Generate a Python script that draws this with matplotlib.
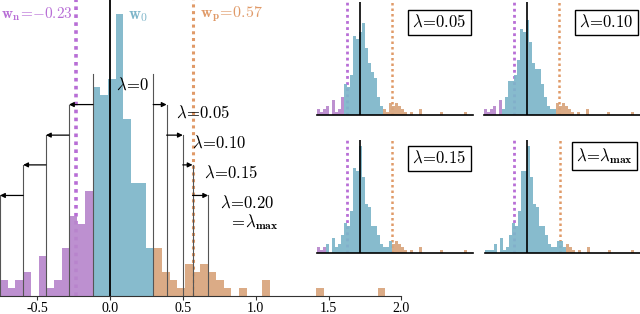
import numpy as np
import matplotlib
matplotlib.use("Agg")
import matplotlib.pyplot as plt

plt.rcParams['mathtext.fontset'] = 'cm'
plt.rcParams['font.family'] = ['Liberation Serif', 'DejaVu Serif']

# histogram bins (weight values) shared by every panel
w_min, w_max, n_bins = -0.754, 1.89, 50
w_n, w_p = -0.23, 0.57

# counts per bin, main histogram (lambda = 0)
main_counts = [2, 1, 2, 3, 0, 5, 1, 2, 6, 10, 9, 13,
               26, 25, 27, 35, 22, 14, 14, 6,
               6, 3, 2, 1, 4, 3, 4, 3, 2, 1, 0, 1, 0, 0, 2,
               0, 0, 0, 0, 0, 0, 1, 0, 0, 0, 0, 0, 0, 0, 1]

# lambda brackets: lower / upper thresholds
lambdas = ['0', '0.05', '0.10', '0.15', '0.20']
low_thr = [-0.116, -0.281, -0.439, -0.595, -0.754]
high_thr = [0.297, 0.389, 0.500, 0.567, 0.674]
bracket_y = [27.6, 23.8, 20.0, 16.3, 12.5]

# retrained histograms for the small panels
p1_counts = main_counts[:9] + [10, 9, 13, 26, 25, 27, 30, 22, 17, 14, 12, 6, 3] + main_counts[22:]
p2_counts = main_counts[:6] + [2, 6, 11, 11, 13, 18, 28, 27, 31, 24, 17, 15, 15, 10, 6, 3, 2, 2] + main_counts[24:]
p3_counts = main_counts[:3] + [3, 0, 5, 2, 3, 6, 10, 9, 14, 28, 27, 35, 25, 16, 15, 9, 9, 6, 3, 2, 2, 4] + main_counts[25:]
p4_counts = [1, 1, 1, 3, 0, 5, 1, 2, 6, 10, 9, 14, 27, 27, 35, 25, 16, 15, 9, 9, 6, 3, 2, 2, 4, 4, 2] + main_counts[27:]
panel_counts = [p1_counts, p2_counts, p3_counts, p4_counts]
panel_labels = [r'$\mathbf{\lambda\!=\!0.05}$', r'$\mathbf{\lambda\!=\!0.10}$',
                r'$\mathbf{\lambda\!=\!0.15}$', r'$\mathbf{\lambda\!=\!\lambda_{max}}$']
panel_thr = [1, 2, 3, 4]

PURPLE = '#b887cc'
BLUE = '#7db5c9'
ORANGE = '#d8a47c'
PURPLE_L = '#b86ed6'
ORANGE_L = '#e09a68'

edges = np.linspace(w_min, w_max, n_bins + 1)
centers = (edges[:-1] + edges[1:]) / 2
widths = np.diff(edges)


def bar_colors(lo, hi):
    return [PURPLE if c < lo else (ORANGE if c > hi else BLUE) for c in centers]


fig = plt.figure(figsize=(6.4, 3.14), dpi=100)

# ---- main histogram
ax = fig.add_axes([0, 0.0573, 0.6273, 0.9427])
ax.set_xlim(-0.754, 2.0)
ax.set_ylim(0, 36.8)
ax.axvline(w_n, color=PURPLE_L, ls=(0, (1, 1.2)), lw=2.6, zorder=1)
ax.axvline(w_p, color=ORANGE_L, ls=(0, (1, 1.2)), lw=2.2, zorder=1)
ax.bar(edges[:-1], main_counts, width=widths, align='edge',
       color=bar_colors(low_thr[0], high_thr[0]), alpha=0.92, zorder=2, lw=0)
ax.axvline(0, color='black', lw=1.3, zorder=4)

for i in range(len(lambdas)):
    y = bracket_y[i]
    for x in (low_thr[i], high_thr[i]):
        ax.plot([x, x], [0, y], color='#555555', lw=0.8, zorder=3)
    if i > 0:
        for x0, x1 in ((low_thr[i - 1], low_thr[i]), (high_thr[i - 1], high_thr[i])):
            ax.annotate('', xy=(x1, y), xytext=(x0, y),
                        arrowprops=dict(arrowstyle='-|>', color='black', lw=0.9,
                                        mutation_scale=7, shrinkA=0, shrinkB=0),
                        annotation_clip=False, zorder=3)

lab_pos = [(0.045, 26.2), (0.455, 22.7), (0.56, 18.9), (0.643, 15.2), (0.752, 11.5)]
for lam, (x, y) in zip(lambdas, lab_pos):
    ax.text(x, y, r'$\mathbf{\lambda\!=\!' + lam + '}$', fontsize=12, va='center', ha='left',
            zorder=5)
ax.text(0.82, 9.2, r'$\mathbf{=\!\lambda_{max}}$', fontsize=12, va='center', ha='left')

ax.text(-0.748, 35.0, r'$\mathbf{w_n\!=\!{-}0.23}$', color=PURPLE_L, fontsize=11, va='center')
ax.text(0.122, 34.8, r'$\mathbf{w_0}$', color=BLUE, fontsize=12, va='center')
ax.text(0.615, 35.0, r'$\mathbf{w_p\!=\!0.57}$', color=ORANGE_L, fontsize=11.5, va='center')

for s in ('top', 'right', 'left'):
    ax.spines[s].set_visible(False)
ax.spines['bottom'].set_color('#333333')
ax.set_yticks([])
ax.set_xticks([-0.5, 0.0, 0.5, 1.0, 1.5, 2.0])
ax.set_xticklabels(['-0.5', '0.0', '0.5', '1.0', '1.5', '2.0'], fontsize=10)
ax.tick_params(axis='x', length=3, pad=1.5, color='#333333')

# ---- small panels
boxes = [[0.4953, 0.6338], [0.7563, 0.6338], [0.4953, 0.1933], [0.7573, 0.1933]]
box_xy = [(0.783, 0.82), (0.786, 0.82), (0.783, 0.84), (0.77, 0.86)]
for k in range(4):
    pa = fig.add_axes([boxes[k][0], boxes[k][1], 0.2438, 0.36])
    pa.set_xlim(-0.754, 2.0)
    pa.set_ylim(0, 37)
    t = panel_thr[k]
    pa.axvline(w_n, color=PURPLE_L, ls=(0, (1, 1.2)), lw=2.0, zorder=1)
    pa.axvline(w_p, color=ORANGE_L, ls=(0, (1, 1.2)), lw=1.8, zorder=1)
    pa.bar(edges[:-1], panel_counts[k], width=widths, align='edge',
           color=bar_colors(low_thr[t], high_thr[t]), alpha=0.92, zorder=2, lw=0)
    pa.axvline(0, color='black', lw=1.2, zorder=4)
    for s in ('top', 'right', 'left'):
        pa.spines[s].set_visible(False)
    pa.spines['bottom'].set_linewidth(1.2)
    pa.set_xticks([])
    pa.set_yticks([])
    pa.patch.set_alpha(0)
    pa.text(box_xy[k][0], box_xy[k][1], panel_labels[k], transform=pa.transAxes,
            fontsize=12, ha='center', va='center',
            bbox=dict(boxstyle='square,pad=0.25', fc='white', ec='black', lw=1.0))

fig.savefig('out.png', dpi=100)
